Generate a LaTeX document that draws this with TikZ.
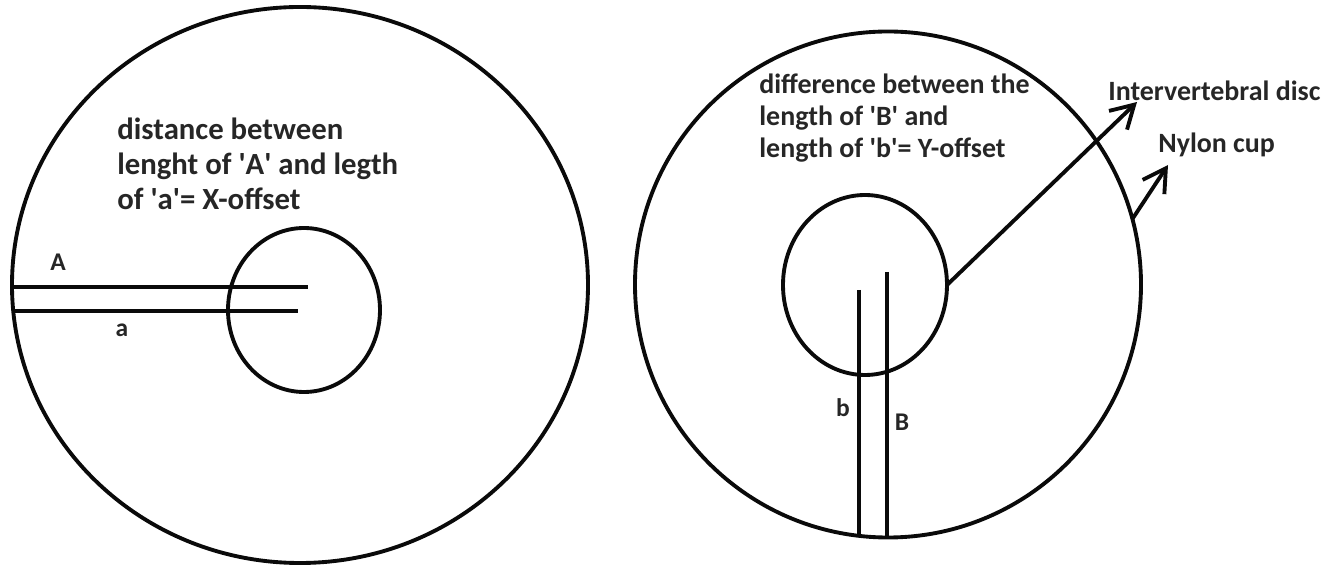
\documentclass[tikz,border=0pt]{standalone}
\usepackage{fontspec}
\setmainfont{Carlito}
\usetikzlibrary{arrows.meta,shapes.geometric}
\definecolor{inkblack}{HTML}{0A0A0A}
\definecolor{textdark}{HTML}{262626}
\newcommand{\sq}{\textquotesingle}

\begin{document}
\begin{tikzpicture}[>={Straight Barb[length=4.5mm,width=5.2mm]},
  ring/.style={draw=inkblack,line width=2.2pt,ellipse,inner sep=0pt,outer sep=0pt},
  rod/.style={draw=inkblack,line width=2.1pt},
  note/.style={align=left,text=textdark,anchor=west,inner sep=0pt,
    font=\bfseries\fontsize{15.9}{18.2}\selectfont},
  lbl/.style={text=textdark,inner sep=0pt,font=\bfseries\fontsize{14.5}{16}\selectfont},
  flow/.style={->,line width=2.2pt,inkblack}]

\useasboundingbox (-13.4,-5.69) rectangle (13.4,5.69);

% left: X-offset
\node[ring,minimum width=11.52cm,minimum height=11.12cm] (cupL) at (-7.40,-0.01) {};
\node[ring,minimum width=3.04cm,minimum height=3.28cm] (discL) at (-7.32,-0.51) {};
\draw[rod] (-13.14,-0.05) -- (-7.24,-0.05);
\draw[rod] (-13.14,-0.53) -- (-7.44,-0.53);
\node[lbl] (lblA) at (-12.24,0.45) {A};
\node[lbl] (lbla) at (-10.96,-0.91) {a};
\node[note,font=\bfseries\fontsize{17.5}{19.9}\selectfont] (noteL) at (-11.06,2.41)
  {distance between\\lenght of \sq A\sq\ and legth\\of \sq a\sq= X-offset};

% right: Y-offset
\node[ring,circle,minimum size=10.12cm] (cupR) at (4.36,0) {};
\node[ring,minimum width=3.28cm,minimum height=3.60cm] (discR) at (3.90,-0.01) {};
\draw[rod] (3.78,-0.11) -- (3.78,-5.03);
\draw[rod] (4.34,0.25) -- (4.34,-5.06);
\node[lbl] (lblb) at (3.46,-2.47) {b};
\node[lbl] (lblB) at (4.64,-2.75) {B};
\node[note] (noteR) at (1.78,3.33)
  {difference between the\\length of \sq B\sq\ and\\length of \sq b\sq= Y-offset};

\node[note] (lblDisc) at (8.76,3.87) {Intervertebral disc};
\node[note] (lblCup) at (9.76,2.79) {Nylon cup};
\coordinate (tipDisc) at (9.34,3.65);
\coordinate (tipCup) at (9.96,2.39);
\draw[flow] (discR.east) -- (tipDisc);
\draw[flow] (cupR.15.5) -- (tipCup);
\end{tikzpicture}
\end{document}
